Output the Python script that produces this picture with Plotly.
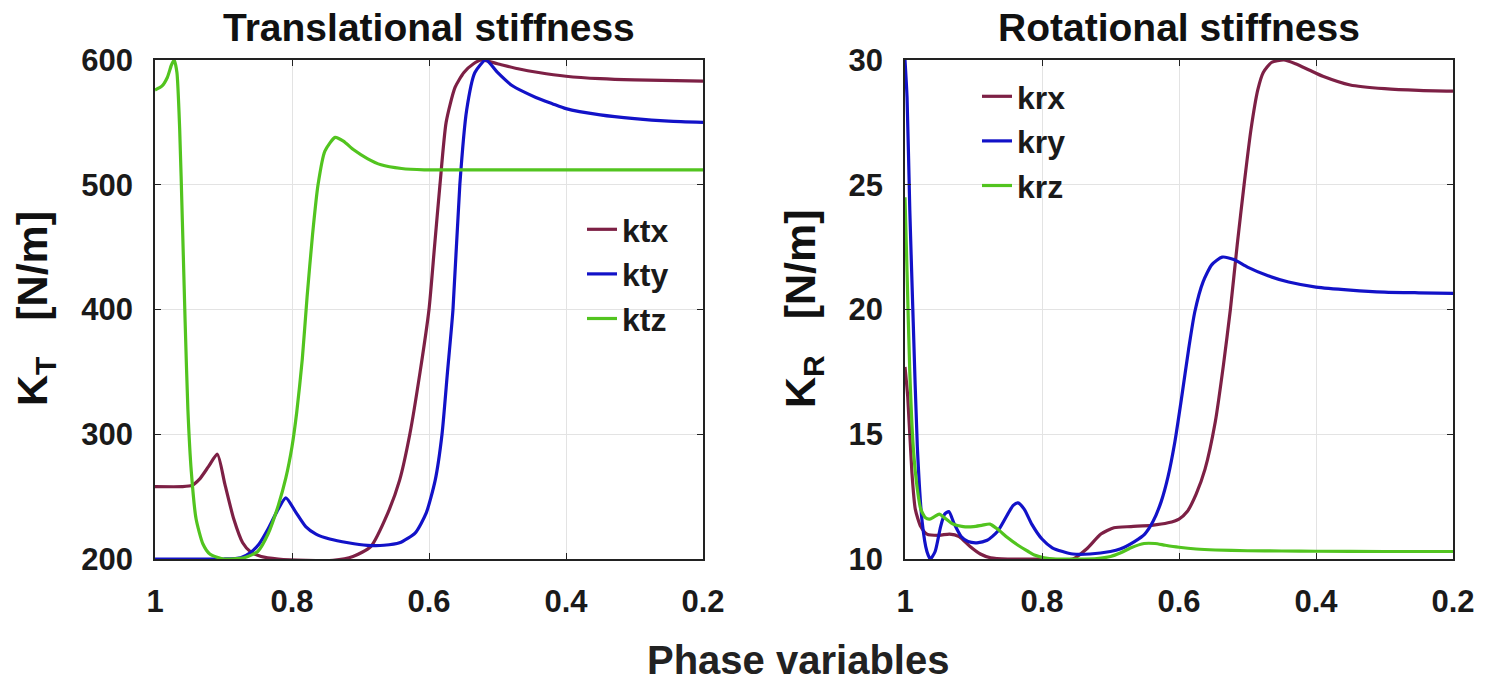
import plotly.graph_objects as go

# ---------------- data ----------------
ktx_x = [1.0, 0.96, 0.946, 0.935, 0.922, 0.909, 0.898, 0.885, 0.872, 0.861, 0.845, 0.82, 0.78, 0.74, 0.711, 0.685, 0.66, 0.643, 0.628, 0.613, 0.6, 0.592, 0.584, 0.575, 0.562, 0.549, 0.535, 0.523, 0.5, 0.47, 0.44, 0.4, 0.35, 0.3, 0.2]
ktx_y = [258, 258, 259, 264, 274, 284, 260, 232, 213, 206, 202, 200, 199, 199, 202, 210, 237, 263, 300, 350, 400, 450, 500, 550, 578, 590, 597, 600, 597, 593, 590, 587, 585, 584, 583]

kty_x = [1.0, 0.9, 0.875, 0.861, 0.848, 0.835, 0.822, 0.809, 0.795, 0.78, 0.765, 0.745, 0.718, 0.69, 0.666, 0.643, 0.62, 0.604, 0.591, 0.581, 0.573, 0.565, 0.555, 0.545, 0.533, 0.517, 0.5, 0.48, 0.46, 0.444, 0.42, 0.4, 0.35, 0.3, 0.25, 0.2]
kty_y = [200, 200, 201, 205, 212, 224, 238, 249, 238, 226, 220, 216, 213, 211, 211, 213, 221, 237, 263, 300, 350, 400, 500, 560, 590, 600, 590, 580, 574, 570, 565, 561, 556, 553, 551, 550]

ktz_x = [1.0, 0.99, 0.982, 0.976, 0.972, 0.968, 0.964, 0.96, 0.956, 0.952, 0.947, 0.94, 0.93, 0.92, 0.9, 0.87, 0.85, 0.835, 0.82, 0.809, 0.8, 0.793, 0.785, 0.778, 0.77, 0.762, 0.752, 0.737, 0.725, 0.71, 0.69, 0.67, 0.64, 0.607, 0.5, 0.3, 0.2]
ktz_y = [576, 579, 586, 596, 600, 590, 545, 470, 390, 320, 270, 232, 212, 204, 200, 201, 206, 220, 243, 265, 290, 318, 360, 410, 460, 500, 527, 538, 535, 528, 521, 516, 513, 512, 512, 512, 512]

krx_x = [1.0, 0.996, 0.99, 0.985, 0.977, 0.968, 0.95, 0.935, 0.921, 0.905, 0.89, 0.875, 0.85, 0.8, 0.755, 0.735, 0.714, 0.695, 0.67, 0.64, 0.616, 0.6, 0.588, 0.575, 0.562, 0.547, 0.535, 0.525, 0.515, 0.505, 0.495, 0.485, 0.477, 0.465, 0.447, 0.43, 0.41, 0.39, 0.35, 0.3, 0.25, 0.2]
krx_y = [17.7, 16.5, 13.5, 12.0, 11.3, 11.0, 10.95, 11.0, 10.9, 10.5, 10.2, 10.05, 10.0, 10.0, 10.0, 10.4, 11.0, 11.25, 11.3, 11.35, 11.45, 11.6, 11.9, 12.6, 13.6, 15.5, 17.8, 20.0, 22.6, 25.0, 27.2, 28.8, 29.5, 29.9, 30.0, 29.85, 29.6, 29.35, 29.0, 28.85, 28.78, 28.75]

kry_x = [1.0, 0.997, 0.993, 0.988, 0.982, 0.975, 0.968, 0.963, 0.956, 0.948, 0.942, 0.936, 0.928, 0.918, 0.908, 0.895, 0.88, 0.865, 0.85, 0.842, 0.835, 0.826, 0.815, 0.8, 0.785, 0.77, 0.755, 0.73, 0.7, 0.686, 0.665, 0.65, 0.638, 0.626, 0.616, 0.606, 0.596, 0.586, 0.577, 0.565, 0.552, 0.537, 0.52, 0.5, 0.47, 0.44, 0.4, 0.35, 0.3, 0.25, 0.2]
kry_y = [30.0, 28.5, 24.0, 19.5, 14.5, 11.5, 10.3, 10.0, 10.3, 11.3, 11.8, 11.9, 11.4, 10.9, 10.7, 10.65, 10.75, 11.1, 11.8, 12.15, 12.25, 12.0, 11.4, 10.8, 10.45, 10.3, 10.2, 10.2, 10.3, 10.4, 10.7, 11.0, 11.5, 12.3, 13.3, 14.7, 16.5, 18.4, 19.9, 21.1, 21.8, 22.1, 22.0, 21.7, 21.35, 21.1, 20.9, 20.78, 20.7, 20.67, 20.65]

krz_x = [1.0, 0.997, 0.993, 0.988, 0.982, 0.977, 0.97, 0.964, 0.957, 0.95, 0.94, 0.93, 0.915, 0.9, 0.888, 0.876, 0.865, 0.85, 0.835, 0.82, 0.81, 0.797, 0.78, 0.75, 0.72, 0.7, 0.685, 0.67, 0.651, 0.635, 0.62, 0.6, 0.575, 0.547, 0.5, 0.45, 0.4, 0.3, 0.2]
krz_y = [24.5, 21.5, 17.5, 14.5, 12.8, 12.0, 11.65, 11.6, 11.7, 11.8, 11.6, 11.4, 11.3, 11.3, 11.35, 11.4, 11.2, 10.85, 10.55, 10.3, 10.15, 10.05, 10.0, 10.0, 10.02, 10.1, 10.25, 10.45, 10.62, 10.62, 10.55, 10.47, 10.4, 10.36, 10.33, 10.32, 10.31, 10.3, 10.3]

x_ticks = [1, 0.8, 0.6, 0.4, 0.2]
x_tick_text = ["1", "0.8", "0.6", "0.4", "0.2"]
yT_ticks = [200, 300, 400, 500, 600]
yR_ticks = [10, 15, 20, 25, 30]

C_RED = "#7d2045"
C_BLUE = "#1212c8"
C_GREEN = "#52c41f"
FONT = "Liberation Sans"

fig = go.Figure()
lw = 3.2
def line(c):
    return dict(color=c, width=lw, shape="spline", smoothing=0.6)

fig.add_trace(go.Scatter(x=ktx_x, y=ktx_y, name="ktx", mode="lines", line=line(C_RED), xaxis="x", yaxis="y", legend="legend"))
fig.add_trace(go.Scatter(x=kty_x, y=kty_y, name="kty", mode="lines", line=line(C_BLUE), xaxis="x", yaxis="y", legend="legend"))
fig.add_trace(go.Scatter(x=ktz_x, y=ktz_y, name="ktz", mode="lines", line=line(C_GREEN), xaxis="x", yaxis="y", legend="legend"))
fig.add_trace(go.Scatter(x=krx_x, y=krx_y, name="krx", mode="lines", line=line(C_RED), xaxis="x2", yaxis="y2", legend="legend2"))
fig.add_trace(go.Scatter(x=kry_x, y=kry_y, name="kry", mode="lines", line=line(C_BLUE), xaxis="x2", yaxis="y2", legend="legend2"))
fig.add_trace(go.Scatter(x=krz_x, y=krz_y, name="krz", mode="lines", line=line(C_GREEN), xaxis="x2", yaxis="y2", legend="legend2"))

W, H = 1485, 685
L1, R1 = 155 / W, 703 / W
L2, R2 = 905 / W, 1453 / W
T, B = 1 - 60 / H, 1 - 559 / H

tickfont = dict(family=FONT, size=31, color="#1a1a1a", weight="bold")
common_x = dict(range=[1, 0.2], tickvals=x_ticks, ticktext=x_tick_text, showgrid=True, gridcolor="#e3e3e3", gridwidth=1,
                showline=True, linecolor="#222", linewidth=1.5, mirror="ticks", ticks="inside", ticklen=6, tickcolor="#222",
                tickfont=tickfont, ticklabelstandoff=14, zeroline=False, fixedrange=True, automargin=False)
common_y = dict(showgrid=True, gridcolor="#e3e3e3", gridwidth=1, showline=True, linecolor="#222", linewidth=1.5,
                mirror="ticks", ticks="inside", ticklen=6, tickcolor="#222", tickfont=tickfont, ticklabelstandoff=14,
                zeroline=False, fixedrange=True, automargin=False)

legfont = dict(family=FONT, size=32, color="#1a1a1a", weight="bold")
fig.update_layout(
    width=W, height=H, margin=dict(l=0, r=0, t=0, b=0, autoexpand=False),
    paper_bgcolor="white", plot_bgcolor="white",
    xaxis=dict(domain=[L1, R1], anchor="y", **common_x),
    yaxis=dict(domain=[B, T], anchor="x", range=[200, 600], tickvals=yT_ticks, **common_y),
    xaxis2=dict(domain=[L2, R2], anchor="y2", **common_x),
    yaxis2=dict(domain=[B, T], anchor="x2", range=[10, 30], tickvals=yR_ticks, **common_y),
    legend=dict(x=582 / W, y=1 - 202 / H, xanchor="left", yanchor="top", bgcolor="rgba(0,0,0,0)", font=legfont,
                itemwidth=30, tracegroupgap=0),
    legend2=dict(x=977 / W, y=1 - 69 / H, xanchor="left", yanchor="top", bgcolor="rgba(0,0,0,0)", font=legfont,
                 itemwidth=30, tracegroupgap=0),
    showlegend=True,
)

ann_font = dict(family=FONT, size=39, color="#111", weight="bold")
fig.add_annotation(text="Translational stiffness", x=(L1 + R1) / 2, y=1 - 28 / H, xref="paper", yref="paper",
                   showarrow=False, font=ann_font, xanchor="center", yanchor="middle")
fig.add_annotation(text="Rotational stiffness", x=(L2 + R2) / 2, y=1 - 28 / H, xref="paper", yref="paper",
                   showarrow=False, font=ann_font, xanchor="center", yanchor="middle")
fig.add_annotation(text="Phase variables", x=798 / W, y=1 - 660 / H, xref="paper", yref="paper",
                   showarrow=False, font=dict(family=FONT, size=40, color="#222", weight="bold"), xanchor="center", yanchor="middle")
fig.add_annotation(text="K<sub>T</sub>&nbsp;&nbsp;&nbsp;[N/m]", x=35 / W, y=1 - 309 / H, xref="paper", yref="paper", textangle=-90,
                   showarrow=False, font=dict(family=FONT, size=43, color="#111", weight="bold"), xanchor="center", yanchor="middle")
fig.add_annotation(text="K<sub>R</sub>&nbsp;&nbsp;&nbsp;[N/m]", x=803 / W, y=1 - 309 / H, xref="paper", yref="paper", textangle=-90,
                   showarrow=False, font=dict(family=FONT, size=43, color="#111", weight="bold"), xanchor="center", yanchor="middle")

fig.write_html("out.html")
